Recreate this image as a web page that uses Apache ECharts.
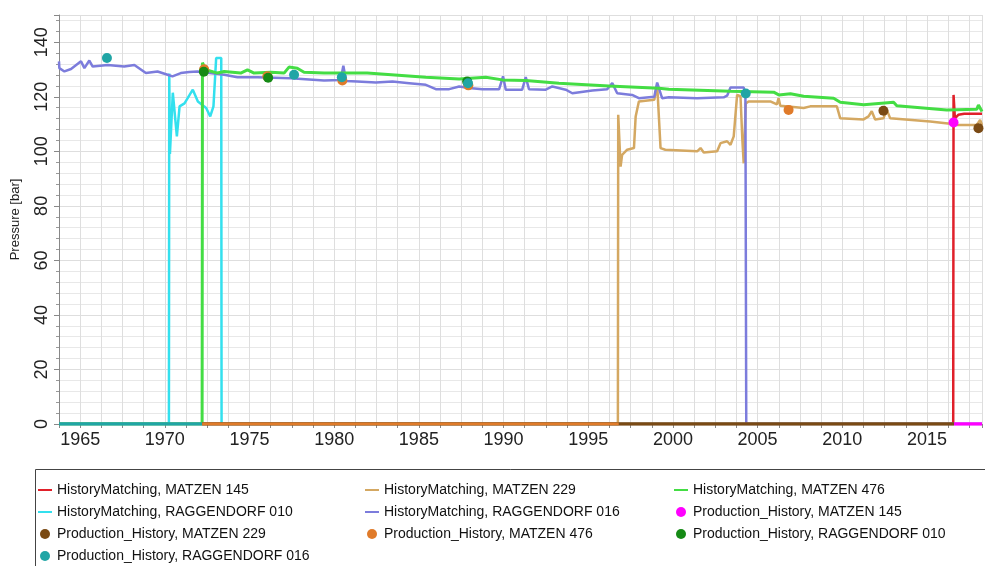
<!DOCTYPE html>
<html>
<head>
<meta charset="utf-8">
<script src="https://cdn.jsdelivr.net/npm/echarts@6/dist/echarts.min.js"></script>
<style>
  html, body { margin: 0; padding: 0; background: #fff; }
  #main { width: 985px; height: 566px; }
</style>
</head>
<body>
<div id="main"></div>
<script>
// year (decimal), pressure [bar]
const hmMatzen145 = [[1963.75, 0], [2016.55, 0], [2016.57, 120.7], [2016.65, 112.1], [2016.85, 113.4], [2017.2, 113.8], [2018.25, 113.8]];
const hmMatzen229 = [[1963.75, 0], [1996.75, 0], [1996.77, 113.4], [1996.91, 94.4], [1997.0, 98.7], [1997.3, 100.6], [1997.7, 101.2],
  [1997.8, 112.8], [1997.99, 118.3], [1998.9, 118.9], [1999.07, 124.4], [1999.27, 101.2], [1999.55, 100.6], [2001.43, 100],
  [2001.63, 101.2], [2001.82, 99.6], [2002.61, 100], [2002.81, 103], [2003.2, 103.7], [2003.4, 102.4], [2003.59, 105.5],
  [2003.79, 120.7], [2003.99, 120.2], [2004.1, 104.2], [2004.18, 95.6], [2004.3, 117.6], [2004.47, 118.3], [2005.75, 118.3],
  [2005.85, 118.9], [2006.14, 117.2], [2006.24, 119.5], [2006.34, 116.7], [2007.72, 115.9], [2008.11, 116.5], [2009.68, 116.5],
  [2009.88, 112.1], [2011.26, 111.7], [2011.55, 112.8], [2011.74, 114.7], [2011.94, 111.7], [2012.43, 112.1], [2012.63, 115.2],
  [2012.83, 112.1], [2015.19, 110.9], [2016.37, 110.1], [2016.57, 109.7], [2017.94, 109.7], [2018.14, 111.5], [2018.25, 109.7]];
const hmMatzen476 = [[1963.75, 0], [1972.2, 0], [1972.22, 132.5], [1972.42, 129.9], [1973.11, 128.7], [1973.5, 129.3], [1974.48, 128.7],
  [1974.88, 129.9], [1975.27, 128.7], [1976.25, 129], [1977.04, 128.7], [1977.33, 130.9], [1977.82, 130.5], [1978.22, 129],
  [1979.4, 128.7], [1981.95, 128.7], [1985.41, 127.2], [1987.38, 126.5], [1988.95, 127.2], [1989.93, 126.2], [1991.31, 126],
  [1993.27, 125], [1996.22, 124], [1999.17, 123.1], [1999.76, 122.8], [2003.4, 122], [2005.95, 121.7], [2006.25, 120.7],
  [2006.94, 121.1], [2007.72, 120.2], [2009.49, 119.5], [2009.88, 118], [2011.26, 117.1], [2013.03, 118], [2013.22, 116.7],
  [2016.17, 115.2], [2017.94, 115.4], [2018.04, 117], [2018.25, 114.6]];
const hmRagg010 = [[1963.75, 0], [1970.24, 0], [1970.26, 128.5], [1970.3, 99], [1970.47, 121.5], [1970.71, 105.5], [1970.87, 116.5],
  [1971.16, 117.6], [1971.65, 122.6], [1971.95, 118.3], [1972.44, 115.9], [1972.68, 112.8], [1972.87, 116.5], [1973.03, 134.2],
  [1973.33, 134.2], [1973.35, 0], [2018.25, 0]];
const hmRagg016 = [[1963.75, 133], [1963.77, 130.5], [1964.07, 129.3], [1964.46, 130.2], [1965.05, 133], [1965.25, 130.5],
  [1965.54, 133.3], [1965.74, 131.1], [1966.62, 131.7], [1967.6, 131.1], [1968.2, 131.7], [1968.88, 128.7], [1969.57, 129.3],
  [1970.16, 128.1], [1970.45, 127.5], [1970.94, 128.7], [1971.44, 129.1], [1971.93, 129.3], [1973.5, 128.1], [1974.29, 127.2],
  [1975.47, 127.2], [1977.43, 126.8], [1979.4, 126], [1980.38, 126.2], [1980.54, 131.4], [1980.7, 125.8], [1981.36, 125.6],
  [1982.46, 125.2], [1983.44, 125.6], [1984.43, 125], [1985.41, 124.4], [1986.0, 122.8], [1986.79, 122.8], [1987.38, 123.8],
  [1987.97, 123.2], [1988.75, 122.8], [1989.74, 122.8], [1989.97, 127.5], [1990.13, 122.6], [1991.1, 122.6], [1991.31, 127.2],
  [1991.5, 122.8], [1992.49, 122.6], [1992.88, 123.8], [1993.67, 122.6], [1994.06, 121.3], [1995.24, 122.3], [1996.12, 122.8],
  [1996.42, 125], [1996.71, 121.3], [1997.59, 120.7], [1997.99, 119.5], [1998.9, 120], [1999.07, 125.2], [1999.36, 119.5],
  [1999.76, 119.8], [2001.43, 119.5], [2003.0, 119.8], [2003.2, 120.4], [2003.4, 123.4], [2004.18, 123.4], [2004.28, 121.3],
  [2004.33, 0], [2018.25, 0]];

const phMatzen145 = [[2016.57, 110.6]];
const phMatzen229 = [[2012.43, 114.9], [2018.04, 108.5]];
const phMatzen476 = [[1972.32, 130.1], [1976.05, 127.5], [1980.48, 126], [1987.92, 124.2], [2006.83, 115.2]];
const phRagg010 = [[1972.3, 129.2], [1976.1, 127], [1987.85, 125.6]];
const phRagg016 = [[1966.58, 134.2], [1977.63, 128.1], [1980.45, 127.2], [1987.9, 125], [2004.3, 121.2]];

// stretches where the production history sits at 0 bar
const zeroRagg016 = [[1963.75, 0], [1972.2, 0]];
const zeroMatzen229 = [[1972.2, 0], [2016.6, 0]];
const zeroMatzen476 = [[1972.2, 0], [1996.8, 0]];
const zeroMatzen145 = [[2016.6, 0], [2018.25, 0]];

const yearTicks = [1965, 1970, 1975, 1980, 1985, 1990, 1995, 2000, 2005, 2010, 2015];
const pressureTicks = [0, 20, 40, 60, 80, 100, 120, 140];

const colors = {
  hm145: '#e0202a', hm229: '#d4a862', hm476: '#44dd44', hm010: '#33e0ee', hm016: '#7c7cdc',
  ph145: '#ff00ff', ph229: '#7a4a14', ph476: '#e07b2a', ph010: '#158a15', ph016: '#20a5a5'
};

const names = {
  hm145: 'HistoryMatching, MATZEN 145', hm229: 'HistoryMatching, MATZEN 229', hm476: 'HistoryMatching, MATZEN 476',
  hm010: 'HistoryMatching, RAGGENDORF 010', hm016: 'HistoryMatching, RAGGENDORF 016',
  ph145: 'Production_History, MATZEN 145', ph229: 'Production_History, MATZEN 229', ph476: 'Production_History, MATZEN 476',
  ph010: 'Production_History, RAGGENDORF 010', ph016: 'Production_History, RAGGENDORF 016'
};

function lineSeries(key, data, width) {
  return {
    name: names[key], type: 'line', data: data, symbol: 'none', showSymbol: false,
    lineStyle: { color: colors[key], width: width }, itemStyle: { color: colors[key] },
    animation: false
  };
}
function scatterSeries(key, data) {
  return {
    name: names[key], type: 'scatter', data: data, symbol: 'circle', symbolSize: 10,
    itemStyle: { color: colors[key], opacity: 1 }, animation: false, z: 4
  };
}
// legend entries: plain line for history matching, dot for production history
function lineItem(key) {
  return { name: names[key], itemStyle: { opacity: 0 }, lineStyle: { width: 2 } };
}
function dotItem(key) {
  return { name: names[key], icon: 'circle' };
}

const myChart = echarts.init(document.getElementById('main'));
const font = 'Liberation Sans, Arial, sans-serif';
const legendBase = {
  orient: 'vertical', top: 483, itemGap: 8, itemWidth: 14, itemHeight: 10,
  textStyle: { fontFamily: font, fontSize: 14, color: '#111' }, padding: 0
};

const option = {
  backgroundColor: '#fff',
  grid: { left: 59, right: 2, top: 15, bottom: 142 },
  xAxis: {
    type: 'value', min: 1963.75, max: 2018.25, interval: 1.25,
    axisLine: { show: true, onZero: false, lineStyle: { color: '#888' } },
    axisTick: { show: true, length: 4, lineStyle: { color: '#888' } },
    axisLabel: {
      fontFamily: font, fontSize: 18, color: '#222', margin: 7,
      formatter: v => yearTicks.some(t => Math.abs(t - v) < 1e-6) ? String(Math.round(v)) : ''
    },
    splitLine: { show: true, lineStyle: { color: '#dedede', width: 1 } }
  },
  yAxis: {
    type: 'value', min: 0, max: 150, interval: 20,
    name: 'Pressure [bar]', nameLocation: 'middle', nameGap: 37,
    nameTextStyle: { fontFamily: font, fontSize: 13, color: '#222' },
    axisLine: { show: true, lineStyle: { color: '#888' } },
    axisTick: { show: true, length: 5, lineStyle: { color: '#888' } },
    minorTick: { show: true, splitNumber: 5, length: 3, lineStyle: { color: '#999' } },
    axisLabel: {
      fontFamily: font, fontSize: 18, color: '#222', rotate: 90, margin: 8,
      formatter: v => pressureTicks.indexOf(v) >= 0 ? String(v) : ''
    },
    splitLine: { show: true, lineStyle: { color: '#dedede' } },
    minorSplitLine: { show: true, lineStyle: { color: '#e8e8e8' } }
  },
  legend: [
    Object.assign({}, legendBase, { left: 37, data: [lineItem('hm145'), lineItem('hm010'), dotItem('ph229'), dotItem('ph016')] }),
    Object.assign({}, legendBase, { left: 364, data: [lineItem('hm229'), lineItem('hm016'), dotItem('ph476')] }),
    Object.assign({}, legendBase, { left: 673, data: [lineItem('hm476'), dotItem('ph145'), dotItem('ph010')] })
  ],
  graphic: [{
    type: 'rect', left: 33, top: 467, silent: true,
    shape: { width: 1000, height: 120 },
    style: { fill: 'none', stroke: '#444', lineWidth: 1 }
  }],
  series: [
    lineSeries('hm145', hmMatzen145, 2.5),
    lineSeries('hm229', hmMatzen229, 2.5),
    lineSeries('hm010', hmRagg010, 2.5),
    lineSeries('hm016', hmRagg016, 2.5),
    lineSeries('hm476', hmMatzen476, 3),
    scatterSeries('ph145', phMatzen145),
    scatterSeries('ph229', phMatzen229),
    scatterSeries('ph476', phMatzen476),
    scatterSeries('ph010', phRagg010),
    scatterSeries('ph016', phRagg016),
    Object.assign(lineSeries('ph016', zeroRagg016, 3.5), { z: 3 }),
    Object.assign(lineSeries('ph229', zeroMatzen229, 3.5), { z: 3 }),
    Object.assign(lineSeries('ph476', zeroMatzen476, 3), { z: 3 }),
    Object.assign(lineSeries('ph145', zeroMatzen145, 3.5), { z: 3 })
  ]
};
myChart.setOption(option);
window.addEventListener('resize', () => myChart.resize());
</script>
</body>
</html>
